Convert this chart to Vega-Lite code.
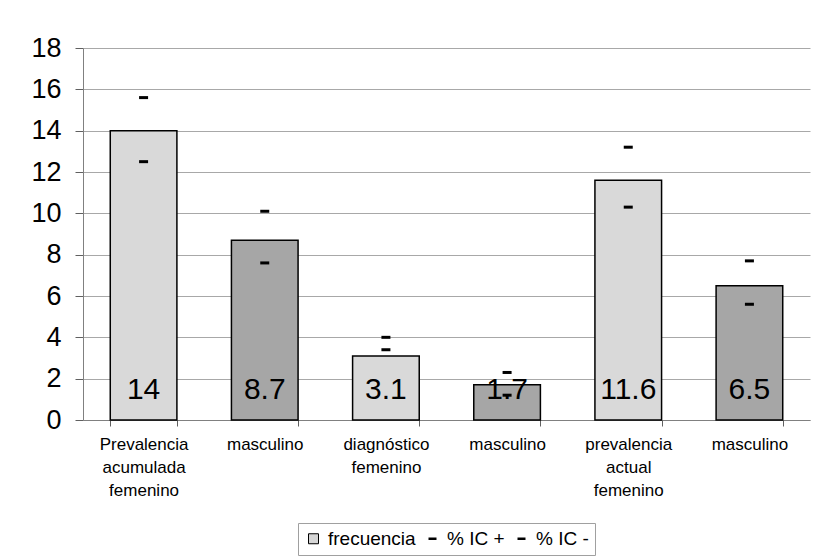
{
  "$schema": "https://vega.github.io/schema/vega-lite/v6.json",
  "width": 727,
  "height": 372,
  "autosize": "none",
  "padding": {"left": 83, "top": 48, "right": 7, "bottom": 140},
  "background": "white",
  "config": {
    "view": {"stroke": null},
    "font": "Liberation Sans",
    "axis": {"labelFont": "Liberation Sans", "labelColor": "black", "domainColor": "#808080", "tickColor": "#606060", "gridColor": "#a8a8a8"}
  },
  "data": {
    "values": [
      {"orden": 1, "grupo": "Prevalencia acumulada femenino", "sexo": "femenino", "frecuencia": 14, "ic_sup": 15.6, "ic_inf": 12.5},
      {"orden": 2, "grupo": "masculino", "sexo": "masculino", "frecuencia": 8.7, "ic_sup": 10.1, "ic_inf": 7.6},
      {"orden": 3, "grupo": "diagnóstico femenino", "sexo": "femenino", "frecuencia": 3.1, "ic_sup": 4.0, "ic_inf": 3.4},
      {"orden": 4, "grupo": "masculino", "sexo": "masculino", "frecuencia": 1.7, "ic_sup": 2.3, "ic_inf": 1.2},
      {"orden": 5, "grupo": "prevalencia actual femenino", "sexo": "femenino", "frecuencia": 11.6, "ic_sup": 13.2, "ic_inf": 10.3},
      {"orden": 6, "grupo": "masculino", "sexo": "masculino", "frecuencia": 6.5, "ic_sup": 7.7, "ic_inf": 5.6}
    ]
  },
  "encoding": {
    "x": {
      "field": "orden",
      "type": "ordinal",
      "scale": {"paddingInner": 0.45, "paddingOuter": 0.225},
      "axis": {
        "title": null,
        "labelAngle": 0,
        "labelFontSize": 17,
        "labelLineHeight": 23,
        "labelPadding": 10,
        "tickSize": 6,
        "tickBand": "extent",
        "labelExpr": "indexof([1,2,3,4,5,6], datum.value) >= 0 ? split(['Prevalencia acumulada femenino','masculino','diagnóstico femenino','masculino','prevalencia actual femenino','masculino'][datum.value - 1], ' ') : ''"
      }
    }
  },
  "resolve": {"scale": {"color": "shared"}},
  "layer": [
    {
      "mark": {"type": "bar", "stroke": "black", "strokeWidth": 1.5},
      "encoding": {
        "y": {
          "field": "frecuencia",
          "type": "quantitative",
          "scale": {"domain": [0, 18], "nice": false},
          "axis": {
            "title": null,
            "values": [0, 2, 4, 6, 8, 10, 12, 14, 16, 18],
            "labelFontSize": 27,
            "labelPadding": 14,
            "tickSize": 8,
            "grid": true
          }
        },
        "fill": {
          "condition": {"test": "datum.sexo == 'masculino'", "value": "#a6a6a6"},
          "value": "#d9d9d9"
        }
      }
    },
    {
      "mark": {"type": "tick", "thickness": 3, "size": 9, "opacity": 1},
      "encoding": {
        "y": {"field": "ic_sup", "type": "quantitative"},
        "color": {
          "datum": "% IC +",
          "type": "nominal",
          "scale": {"domain": ["frecuencia", "% IC +", "% IC -"], "range": ["#d6d6d6", "black", "black"]},
          "legend": {
            "title": null,
            "orient": "none",
            "legendX": 215,
            "legendY": 475,
            "direction": "horizontal",
            "labelFontSize": 19,
            "labelFont": "Liberation Sans",
            "labelColor": "black",
            "labelOffset": 5,
            "columnPadding": 7,
            "symbolSize": 100,
            "padding": 6,
            "strokeColor": "#a0a0a0",
            "fillColor": "white",
            "values": ["frecuencia", "% IC +", "% IC -"],
            "encoding": {
              "symbols": {
                "shape": {"value": {"expr": "datum.label == 'frecuencia' ? 'square' : 'stroke'"}},
                "size": {"value": {"expr": "datum.label == 'frecuencia' ? 100 : 64"}},
                "fill": {"value": {"expr": "datum.label == 'frecuencia' ? '#d6d6d6' : 'black'"}},
                "stroke": {"value": "black"},
                "strokeWidth": {"value": {"expr": "datum.label == 'frecuencia' ? 1 : 2.5"}},
                "opacity": {"value": 1},
                "fillOpacity": {"value": 1},
                "strokeOpacity": {"value": 1}
              }
            }
          }
        }
      }
    },
    {
      "mark": {"type": "tick", "thickness": 3, "size": 9, "opacity": 1},
      "encoding": {
        "y": {"field": "ic_inf", "type": "quantitative"},
        "color": {"datum": "% IC -", "type": "nominal"}
      }
    },
    {
      "mark": {"type": "text", "fontSize": 30, "font": "Liberation Sans", "baseline": "bottom", "dy": -15, "color": "black"},
      "encoding": {
        "y": {"datum": 0, "type": "quantitative"},
        "text": {"field": "frecuencia", "type": "quantitative"}
      }
    }
  ]
}
